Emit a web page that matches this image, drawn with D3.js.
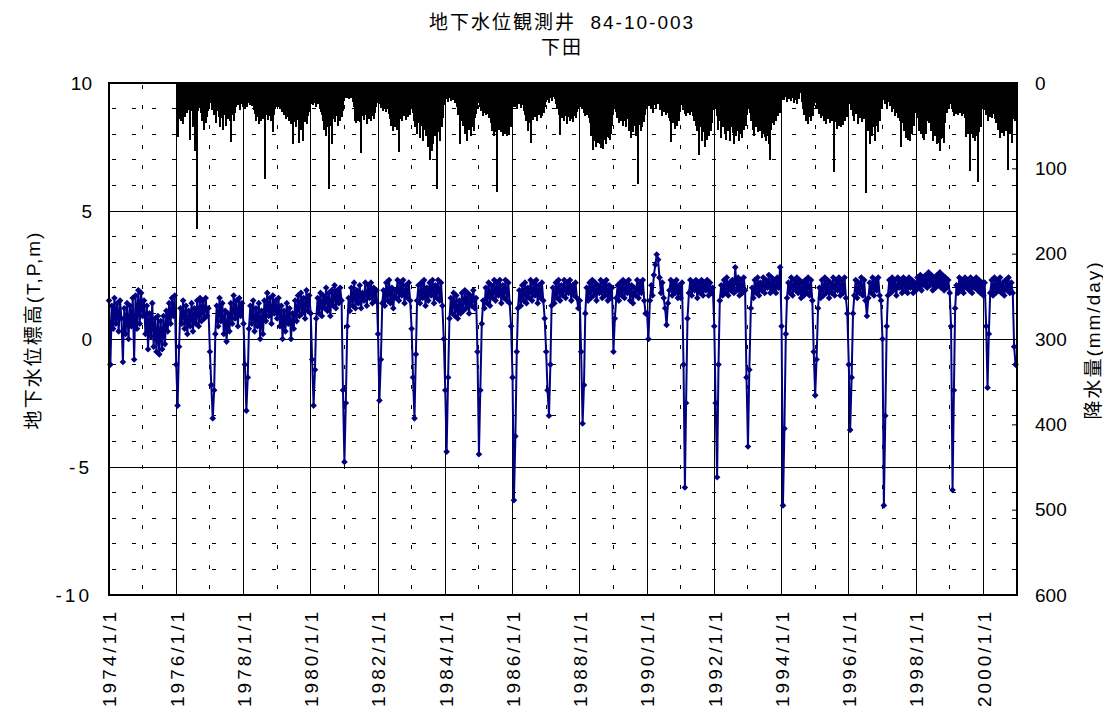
<!DOCTYPE html>
<head>
  <meta charset="utf-8">
  <script src="https://d3js.org/d3.v7.min.js"></script>
  <style>
body { margin:0; background:#fff; }
text {
  font-family: "Liberation Sans", Arial, "Noto Sans CJK JP", sans-serif;
  fill: #000;
}
.title { font-size: 19px; letter-spacing: 2px; white-space: pre; }
.axis text { font-size: 19px; }
.axis-label { font-size: 19px; letter-spacing: 2px; }
.grid-major { stroke: #000; stroke-width: 1; shape-rendering: crispEdges; }
.grid-minor { stroke: #000; stroke-width: 1; stroke-dasharray: 4,16; shape-rendering: crispEdges; }
.frame { fill: none; stroke: #000; stroke-width: 2; shape-rendering: crispEdges; }
.rain { fill: #000; shape-rendering: crispEdges; }
.gw-line { fill: none; stroke: #000080; stroke-width: 2; }
.gw-dot { fill: #000080; }
  </style>
</head>

<body>
  <script>
const titleLines = ['地下水位観測井  84-10-003', '下田']
const leftLabel = '地下水位標高(T,P,m)'
const rightLabel = '降水量(mm/day)'

const levelTicks = [-10, -5, 0, 5, 10]
const rainTicks = [0, 100, 200, 300, 400, 500, 600]
const labelYears = [1974, 1976, 1978, 1980, 1982, 1984, 1986, 1988, 1990, 1992, 1994, 1996, 1998, 2000]

// groundwater level (T.P. m), twice a month (1st and 16th), from 1974/1/1
const gwStartYear = 1974
const gwLevel = [
  1.5, -1.0, 1.3, 0.4, 1.6, 0.6, 1.4, 0.3, 1.5, 0.8, -0.9, 1.2, 0.2, 1.4, 0.0, 1.3, 0.5, 1.6, -0.8, 1.7, 0.4, 1.9, 0.6, 1.8,
  0.9, 1.5, 0.2, 1.3, -0.4, 1.0, 0.1, 1.4, -0.3, 0.8, -0.5, 0.9, -0.6, 0.7, -0.4, 0.9, -0.2, 1.1, 0.3, 1.4, 0.6, 1.6, 0.9, 1.7,
  -1.0, -2.6, -0.3, 1.2, 0.6, 1.5, 0.4, 1.3, 0.2, 1.1, 0.5, 1.4, 0.3, 1.2, 0.6, 1.5, 0.5, 1.6, 0.7, 1.5, 0.8, 1.6, 0.9, 1.2,
  -0.5, -1.8, -3.1, -2.0, 0.2, 1.3, 0.5, 1.6, 0.7, 1.4, 0.2, 1.1, -0.1, 1.0, 0.3, 1.4, 0.6, 1.7, 0.8, 1.5, 0.5, 1.6, 0.9, 1.4,
  0.6, -1.0, -2.8, -1.5, 0.4, 1.3, 0.6, 1.5, 0.3, 1.2, 0.5, 1.4, 0.0, 1.1, 0.2, 1.5, 0.7, 1.8, 0.9, 1.6, 0.6, 1.7, 1.0, 1.5,
  0.8, 1.6, 0.5, 1.3, 0.0, 1.1, 0.3, 1.4, 0.6, 1.2, 0.0, 1.0, 0.4, 1.5, 0.7, 1.7, 0.9, 1.8, 1.0, 1.6, 0.8, 1.9, 1.1, 1.7,
  1.0, -0.8, -2.6, -1.2, 0.8, 1.6, 1.0, 1.8, 0.9, 1.7, 1.2, 2.0, 1.1, 1.8, 0.9, 1.9, 1.3, 2.1, 1.2, 1.9, 1.4, 2.0, 1.5, -2.0,
  -4.8, -2.5, 0.5, 1.6, 1.1, 2.0, 1.3, 2.2, 1.2, 1.9, 1.4, 2.1, 1.2, 1.8, 1.5, 2.2, 1.3, 2.1, 1.6, 2.2, 1.4, 2.0, 1.5, 1.9,
  0.2, -2.4, -0.8, 1.4, 1.9, 1.3, 2.2, 1.5, 2.3, 1.4, 2.0, 1.2, 1.9, 1.6, 2.3, 1.5, 2.2, 1.7, 2.3, 1.4, 2.1, 1.6, 2.2, 1.5,
  0.4, -1.5, -3.1, -0.6, 1.5, 2.1, 1.4, 2.2, 1.6, 2.3, 1.3, 2.0, 1.5, 2.2, 1.7, 2.3, 1.4, 2.1, 1.6, 2.3, 1.5, 2.2, 1.3, 0.0,
  -2.0, -4.4, -1.5, 0.8, 1.6, 1.0, 1.8, 0.9, 1.7, 0.8, 1.5, 1.0, 1.8, 1.1, 1.9, 1.2, 1.8, 1.0, 1.7, 1.3, 1.9, 1.2, 1.6, -0.5,
  -4.5, -2.0, 0.6, 1.5, 1.2, 2.0, 1.4, 2.2, 1.3, 2.1, 1.6, 2.3, 1.5, 2.2, 1.7, 2.3, 1.4, 2.1, 1.6, 2.3, 1.5, 2.2, 1.4, 0.5,
  -1.5, -6.3, -3.8, -0.5, 1.2, 1.9, 1.3, 2.1, 1.5, 2.2, 1.4, 2.0, 1.6, 2.3, 1.5, 2.2, 1.7, 2.3, 1.4, 2.1, 1.6, 2.2, 1.5, 0.8,
  -0.5, -2.0, -3.0, -1.0, 1.3, 2.0, 1.4, 2.2, 1.6, 2.3, 1.5, 2.1, 1.7, 2.3, 1.6, 2.2, 1.8, 2.3, 1.5, 2.1, 1.7, 2.2, 1.6, 1.2,
  1.5, -0.5, -3.3, -1.8, 1.0, 2.0, 1.5, 2.2, 1.6, 2.3, 1.7, 2.2, 1.5, 2.1, 1.8, 2.3, 1.6, 2.2, 1.7, 2.3, 1.5, 2.1, 1.6, 2.0,
  -0.5, 0.8, 1.6, 2.1, 1.5, 2.2, 1.7, 2.3, 1.6, 2.2, 1.8, 2.3, 1.5, 2.1, 1.4, 2.0, 1.7, 2.3, 1.6, 2.2, 1.8, 2.3, 1.5, 1.0,
  1.0, 0.0, 1.5, 2.1, 1.7, 2.5, 2.9, 3.3, 3.1, 2.4, 1.8, 2.2, 1.6, 1.2, 0.55, 1.4, 1.9, 2.3, 1.7, 2.2, 1.8, 2.3, 1.6, 2.1,
  1.6, 2.2, -1.0, -5.8, -2.5, 0.8, 1.8, 2.3, 1.7, 2.2, 1.9, 2.3, 1.6, 2.2, 1.8, 2.3, 1.7, 2.2, 1.9, 2.3, 1.7, 2.2, 1.8, 2.0,
  0.5, -2.5, -5.4, -1.0, 1.5, 2.1, 1.7, 2.3, 1.8, 2.4, 1.7, 2.2, 1.9, 2.3, 1.8, 2.8, 1.9, 2.4, 1.7, 2.3, 1.8, 2.4, 1.9, -1.5,
  -4.2, -1.2, 1.2, 2.0, 1.6, 2.3, 1.8, 2.4, 1.7, 2.2, 1.9, 2.4, 1.8, 2.3, 2.0, 2.5, 1.8, 2.4, 1.9, 2.3, 1.8, 2.4, 2.0, 2.8,
  0.5, -6.5, -3.5, 0.2, 1.6, 2.2, 1.8, 2.4, 1.7, 2.3, 1.9, 2.4, 1.8, 2.3, 1.6, 2.2, 1.7, 2.3, 1.8, 2.4, 1.7, 2.3, 1.5, -0.5,
  -2.2, -0.8, 1.2, 2.0, 1.6, 2.3, 1.7, 2.4, 1.8, 2.3, 1.6, 2.2, 1.8, 2.4, 1.7, 2.3, 1.9, 2.4, 1.7, 2.3, 1.8, 2.4, 1.6, 1.0,
  -1.0, -3.55, -1.5, 1.0, 1.7, 2.3, 1.6, 2.2, 1.8, 2.4, 1.7, 2.3, 1.5, 0.9, 1.6, 2.2, 1.8, 2.4, 1.7, 2.3, 1.9, 2.4, 1.7, 1.5,
  0.0, -6.5, -3.0, 0.5, 1.7, 2.3, 1.8, 2.4, 1.9, 2.3, 1.7, 2.4, 2.0, 2.3, 1.8, 2.4, 1.9, 2.3, 1.8, 2.4, 2.0, 2.3, 1.8, 2.2,
  1.9, 2.4, 2.0, 2.5, 1.9, 2.4, 2.1, 2.5, 2.0, 2.6, 2.1, 2.5, 1.9, 2.4, 2.0, 2.5, 2.1, 2.6, 2.0, 2.5, 1.9, 2.4, 2.0, 2.3,
  1.8, 0.5, -5.9, -2.0, 1.2, 2.1, 1.8, 2.4, 1.9, 2.3, 1.8, 2.4, 2.0, 2.3, 1.9, 2.4, 1.8, 2.3, 2.0, 2.4, 1.9, 2.3, 1.8, 2.2,
  1.7, 2.2, 0.5, -1.9, 0.2, 1.8, 2.3, 1.7, 2.4, 1.8, 2.3, 1.9, 2.4, 1.8, 2.2, 1.7, 2.3, 1.9, 2.4, 1.8, 2.2, 1.8, -0.3, -1.0
]

// rainfall (mm/day), largest day of each 10-day period, from 1976/1/1
const rainStartYear = 1976
const rainfall = [
  38, 63, 42, 33, 45, 36, 48, 30, 40, 28, 26, 35, 30, 32, 67, 28, 33, 52, 36, 80, 31, 171, 33, 28, 29, 35, 40, 45, 36, 55, 42, 47, 40, 33, 28, 24,
  24, 32, 28, 38, 35, 42, 47, 33, 30, 40, 52, 36, 41, 55, 38, 34, 50, 37, 32, 42, 35, 45, 69, 38, 31, 44, 35, 28, 20, 26, 23, 32, 18, 25, 28, 22,
  25, 30, 22, 28, 20, 24, 26, 19, 27, 23, 32, 36, 38, 45, 40, 33, 48, 39, 44, 36, 42, 33, 113, 38, 35, 43, 39, 31, 45, 36, 58, 34, 38, 30, 28, 24,
  28, 24, 31, 25, 34, 27, 32, 38, 35, 42, 33, 40, 45, 37, 48, 42, 72, 38, 46, 52, 43, 37, 70, 47, 40, 55, 44, 68, 38, 46, 42, 48, 39, 34, 30, 25,
  22, 26, 19, 24, 21, 28, 18, 25, 22, 30, 34, 38, 45, 55, 42, 62, 47, 52, 44, 124, 38, 50, 71, 42, 36, 46, 39, 35, 50, 42, 44, 36, 40, 33, 25, 21,
  17, 14, 18, 15, 19, 14, 17, 18, 22, 28, 45, 38, 47, 42, 44, 36, 46, 82, 39, 34, 43, 30, 38, 48, 35, 42, 32, 45, 37, 39, 33, 42, 35, 28, 23, 19,
  25, 21, 29, 24, 33, 26, 31, 22, 34, 28, 30, 36, 42, 50, 44, 56, 47, 52, 45, 55, 43, 38, 81, 42, 34, 44, 36, 39, 30, 43, 35, 40, 33, 38, 29, 24,
  35, 44, 32, 52, 38, 60, 47, 41, 65, 50, 45, 68, 55, 48, 62, 57, 47, 75, 68, 90, 60, 80, 72, 56, 62, 52, 124, 58, 47, 68, 38, 52, 31, 41, 26, 22,
  19, 15, 22, 12, 17, 21, 14, 20, 16, 24, 15, 8, 28, 37, 34, 72, 44, 35, 50, 41, 60, 46, 68, 39, 55, 45, 62, 42, 52, 47, 56, 41, 36, 30, 24, 20,
  28, 33, 25, 39, 30, 35, 29, 38, 31, 36, 41, 34, 47, 56, 45, 62, 52, 58, 128, 50, 45, 55, 47, 58, 51, 62, 57, 60, 53, 62, 56, 61, 47, 52, 37, 28,
  22, 19, 28, 21, 30, 20, 25, 24, 29, 19, 26, 33, 38, 35, 44, 39, 56, 47, 41, 70, 36, 43, 34, 40, 31, 44, 35, 38, 30, 41, 34, 39, 31, 35, 28, 22,
  20, 15, 24, 17, 14, 21, 16, 12, 8, 19, 25, 30, 28, 38, 61, 34, 41, 36, 45, 39, 35, 48, 40, 33, 44, 38, 42, 35, 46, 39, 36, 41, 34, 31, 25, 21,
  28, 31, 25, 35, 39, 30, 34, 38, 33, 41, 47, 62, 56, 79, 68, 60, 75, 68, 65, 70, 57, 72, 76, 62, 77, 67, 55, 72, 58, 63, 65, 67, 60, 50, 37, 28,
  30, 25, 34, 41, 28, 47, 36, 44, 33, 50, 39, 45, 35, 52, 42, 38, 56, 47, 65, 41, 58, 50, 45, 62, 54, 118, 49, 44, 56, 39, 51, 35, 46, 37, 31, 26,
  22, 27, 19, 31, 24, 35, 17, 26, 21, 30, 16, 25, 20, 32, 22, 39, 27, 34, 24, 37, 30, 35, 41, 32, 44, 69, 38, 47, 35, 54, 42, 50, 39, 45, 34, 25,
  26, 32, 25, 36, 30, 39, 27, 35, 31, 37, 29, 34, 39, 44, 36, 50, 41, 56, 47, 84, 45, 52, 68, 58, 47, 75, 55, 67, 50, 62, 45, 56, 40, 47, 32, 27,
  31, 25, 39, 55, 34, 45, 65, 37, 51, 35, 60, 44, 67, 49, 56, 41, 68, 52, 47, 59, 71, 45, 62, 50, 56, 68, 47, 60, 52, 65, 45, 55, 42, 50, 37, 30,
  27, 35, 44, 39, 55, 47, 62, 41, 51, 45, 58, 49, 56, 52, 65, 60, 60, 63, 68, 61, 62, 57, 72, 90, 55, 47, 41, 49, 36, 44, 34, 39, 30, 35, 25, 20,
  17, 14, 20, 11, 16, 22, 12, 19, 15, 21, 11, 17, 24, 14, 20, 16, 25, 15, 19, 12, 6, 22, 30, 37, 34, 44, 36, 48, 40, 35, 45, 37, 32, 39, 27, 21,
  24, 30, 25, 36, 27, 41, 32, 39, 26, 45, 35, 48, 31, 42, 37, 47, 34, 44, 40, 104, 36, 46, 54, 39, 50, 35, 45, 52, 41, 49, 37, 44, 34, 40, 30, 22,
  25, 32, 26, 39, 30, 44, 27, 36, 34, 48, 31, 41, 37, 46, 35, 42, 39, 129, 45, 37, 56, 47, 72, 41, 62, 52, 45, 68, 50, 39, 58, 35, 44, 31, 27, 22,
  20, 16, 25, 19, 30, 22, 15, 27, 21, 34, 24, 31, 39, 26, 35, 30, 41, 36, 45, 75, 37, 47, 56, 44, 65, 50, 67, 55, 47, 68, 52, 60, 45, 50, 35, 25,
  31, 41, 56, 35, 60, 47, 65, 39, 67, 50, 60, 44, 37, 47, 41, 56, 50, 68, 58, 62, 52, 72, 62, 70, 57, 80, 66, 65, 55, 70, 47, 30, 35, 27, 31, 25,
  25, 30, 34, 27, 39, 31, 36, 29, 37, 32, 35, 30, 39, 34, 36, 41, 63, 47, 56, 60, 51, 103, 60, 45, 65, 50, 68, 55, 62, 116, 58, 44, 52, 35, 30, 25,
  27, 32, 37, 30, 44, 35, 40, 31, 41, 36, 34, 42, 37, 47, 35, 55, 44, 65, 50, 59, 41, 62, 47, 56, 51, 102, 45, 60, 52, 48, 70, 42, 39, 44, 35, 30
]

const width = 1103
const height = 715
const plot = { left: 109, right: 1017, top: 83, bottom: 595 }

const gwDate = i => new Date(gwStartYear + Math.floor(i / 24), Math.floor((i % 24) / 2), 1 + 15 * (i % 2))
const rainDate = i => new Date(rainStartYear + Math.floor(i / 36), Math.floor((i % 36) / 3), 1 + 10 * (i % 3))

const x = d3.scaleTime()
  .domain([new Date(1974, 0, 1), new Date(2001, 0, 1)])
  .range([plot.left, plot.right])
const yLevel = d3.scaleLinear().domain([-10, 10]).range([plot.bottom, plot.top])
const yRain = d3.scaleLinear().domain([0, 600]).range([plot.top, plot.bottom])

const svg = d3.select('body').append('svg')
  .attr('width', width)
  .attr('height', height)

// title
svg.selectAll('.title')
  .data(titleLines)
  .enter().append('text')
  .attr('class', 'title')
  .attr('x', 562)
  .attr('y', (d, i) => 29 + i * 25)
  .attr('text-anchor', 'middle')
  .text(d => d)

// grid
const grid = svg.append('g')
const minorLevels = d3.range(-9, 10).filter(v => v % 5 !== 0)
grid.selectAll('.h-minor')
  .data(minorLevels)
  .enter().append('line')
  .attr('class', 'grid-minor')
  .attr('x1', plot.left).attr('x2', plot.right)
  .attr('y1', d => yLevel(d)).attr('y2', d => yLevel(d))
  .attr('stroke-dashoffset', -3)
grid.selectAll('.h-major')
  .data([-5, 0, 5])
  .enter().append('line')
  .attr('class', 'grid-major')
  .attr('x1', plot.left).attr('x2', plot.right)
  .attr('y1', d => yLevel(d)).attr('y2', d => yLevel(d))

const gridYears = d3.range(1975, 2001)
grid.selectAll('.v-grid')
  .data(gridYears)
  .enter().append('line')
  .attr('class', d => d % 2 === 0 ? 'grid-major' : 'grid-minor')
  .attr('x1', d => x(new Date(d, 0, 1))).attr('x2', d => x(new Date(d, 0, 1)))
  .attr('y1', plot.top).attr('y2', plot.bottom)
  .attr('stroke-dashoffset', -2)

// rainfall bars hanging from the top
svg.append('g')
  .selectAll('rect')
  .data(rainfall)
  .enter().append('rect')
  .attr('class', 'rain')
  .attr('x', (d, i) => Math.round(x(rainDate(i))))
  .attr('width', 2)
  .attr('y', plot.top)
  .attr('height', d => yRain(d) - plot.top)

// groundwater level
const line = d3.line()
  .x((d, i) => x(gwDate(i)))
  .y(d => yLevel(d))

svg.append('path')
  .datum(gwLevel)
  .attr('class', 'gw-line')
  .attr('d', line)

const diamond = d3.symbol(d3.symbolSquare, 22)
svg.append('g')
  .selectAll('path')
  .data(gwLevel)
  .enter().append('path')
  .attr('class', 'gw-dot')
  .attr('d', diamond)
  .attr('transform', (d, i) => `translate(${x(gwDate(i))},${yLevel(d)}) rotate(45)`)

// frame
svg.append('rect')
  .attr('class', 'frame')
  .attr('x', plot.left).attr('y', plot.top)
  .attr('width', plot.right - plot.left)
  .attr('height', plot.bottom - plot.top)

// axes
const leftAxis = svg.append('g')
  .attr('class', 'axis')
  .attr('transform', `translate(${plot.left},0)`)
  .call(d3.axisLeft(yLevel).tickValues(levelTicks).tickSize(0).tickPadding(17)
    .tickFormat(d => d < 0 ? '-' + Math.abs(d) : d))
leftAxis.select('.domain').remove()
leftAxis.selectAll('text').attr('letter-spacing', d => d < 0 ? 3 : 0)

const rightAxis = svg.append('g')
  .attr('class', 'axis')
  .attr('transform', `translate(${plot.right},0)`)
  .call(d3.axisRight(yRain).tickValues(rainTicks).tickSize(-5).tickPadding(18))
rightAxis.select('.domain').remove()
rightAxis.selectAll('line').attr('stroke', '#000')

const bottomAxis = svg.append('g')
  .attr('class', 'axis')
  .attr('transform', `translate(0,${plot.bottom})`)
  .call(d3.axisBottom(x)
    .tickValues(labelYears.map(y => new Date(y, 0, 1)))
    .tickSize(0)
    .tickFormat(d3.timeFormat('%Y/%-m/%-d')))
bottomAxis.select('.domain').remove()
bottomAxis.selectAll('text')
  .attr('transform', 'rotate(-90)')
  .attr('text-anchor', 'end')
  .attr('letter-spacing', 3)
  .attr('x', -14)
  .attr('y', 0)
  .attr('dy', '0.36em')

// axis titles
svg.append('text')
  .attr('class', 'axis-label')
  .attr('transform', 'translate(33,330) rotate(-90)')
  .attr('text-anchor', 'middle')
  .attr('dy', '0.36em')
  .text(leftLabel)

svg.append('text')
  .attr('class', 'axis-label')
  .attr('transform', 'translate(1093,340) rotate(-90)')
  .attr('text-anchor', 'middle')
  .attr('dy', '0.36em')
  .text(rightLabel)
  </script>
</body>
